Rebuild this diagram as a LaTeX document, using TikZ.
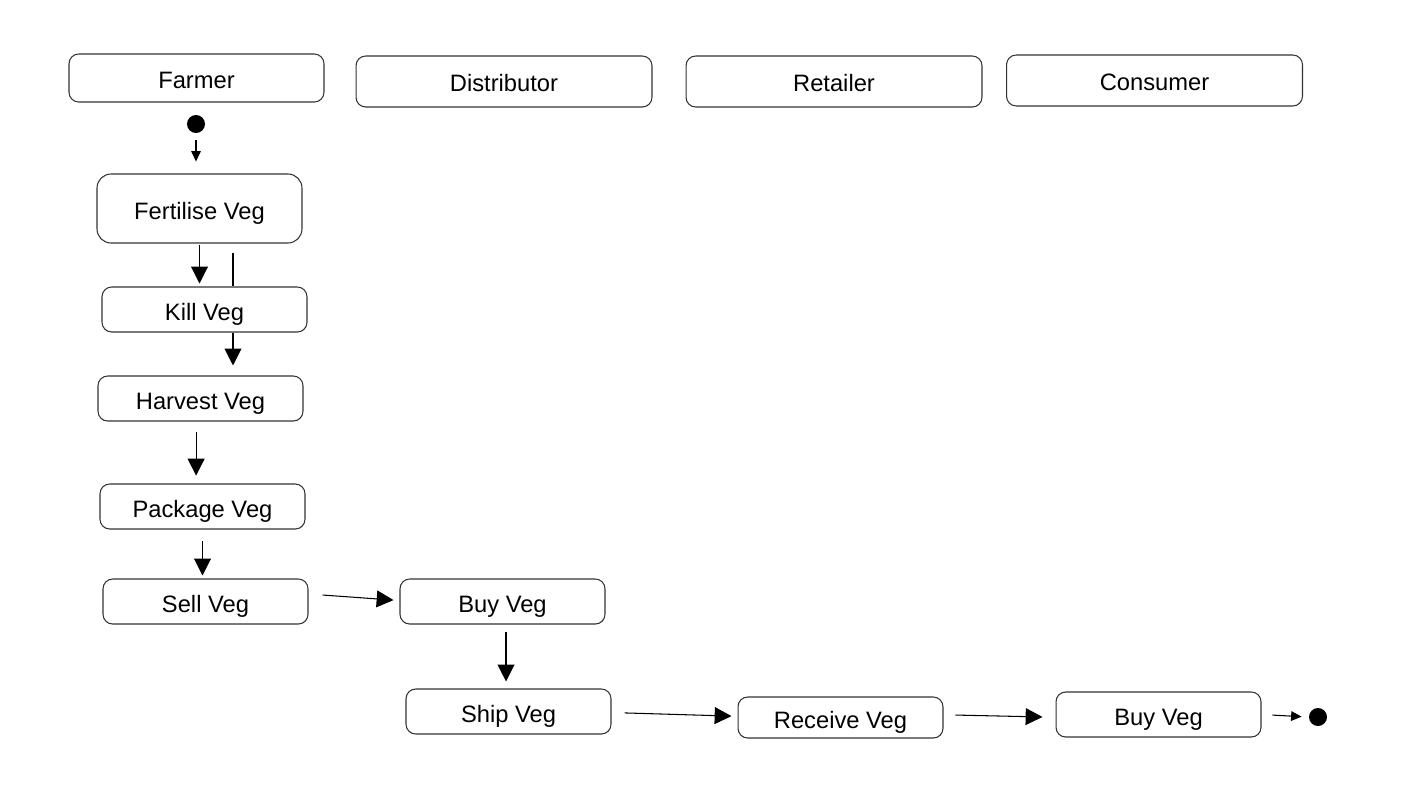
\documentclass[tikz,border=0pt]{standalone}
\usepackage{fontspec}
\setmainfont{Liberation Sans}
\usetikzlibrary{arrows.meta}
\tikzset{
  box/.style={draw=black!80, line width=0.6pt, rounded corners=5.5pt, inner sep=0pt,
    font=\fontsize{13.5}{16}\selectfont},
  lane/.style={box, minimum width=5.92cm, minimum height=1.02cm, text height=11.7pt, text depth=0pt},
  act/.style={box, minimum width=4.1cm, minimum height=0.9cm, text height=12.5pt, text depth=0pt},
  dot/.style={circle, fill=black, inner sep=0pt, minimum size=0.36cm},
  flow/.style={draw=black, line width=0.6pt, -{Triangle[length=9.6pt,width=9.6pt]}},
  tick/.style={draw=black, line width=0.6pt, -{Triangle[length=6pt,width=5.5pt]}}
}
\begin{document}
\begin{tikzpicture}[x=0.02cm, y=-0.02cm]
\useasboundingbox (0,0) rectangle (1422,806);

% lanes
\draw (196.5,78) node[lane, minimum width=5.1cm, minimum height=0.96cm] (farmer) {Farmer};
\draw (504,81.5) node[lane] (distributor) {Distributor};
\draw (834,81.5) node[lane] (retailer) {Retailer};
\draw (1154.5,80.5) node[lane] (consumer) {Consumer};

% farmer
\draw (196,124) node[dot] (start) {};
\draw (199.5,208.5) node[act, minimum height=1.38cm, rounded corners=8pt] (fertilise) {Fertilise Veg};
\draw (204.5,309.5) node[act] (kill) {Kill Veg};
\draw (200.5,398.5) node[act] (harvest) {Harvest Veg};
\draw (202.5,506.5) node[act] (package) {Package Veg};
\draw (205.5,601.5) node[act] (sell) {Sell Veg};
\coordinate (k1) at (233,253);

% distributor
\draw (502.5,601.5) node[act] (buy1) {Buy Veg};
\draw (508.5,711.5) node[act] (ship) {Ship Veg};

% retailer
\draw (840.5,717.5) node[act, minimum height=0.82cm] (receive) {Receive Veg};

% consumer
\draw (1158.5,714.5) node[act] (buy2) {Buy Veg};
\draw (1318,717) node[dot] (stop) {};

\draw [tick, shorten <=4pt, shorten >=6.8pt] (start) -- (start |- fertilise.north);
\draw [flow, shorten <=1pt, shorten >=1.7pt] (fertilise.south) -- (fertilise.south |- kill.north);
\draw [line width=0.6pt] (k1) -- (k1 |- kill.north);
\draw [flow, shorten >=5.7pt] (k1 |- kill.south) -- (k1 |- harvest.north);
\draw [flow, shorten <=6.2pt, shorten >=4.5pt] ([xshift=-2.5pt]harvest.south) -- ([xshift=-2.5pt]harvest.south |- package.north);
\draw [flow, shorten <=6.8pt, shorten >=1.7pt] (package.south) -- (package.south |- sell.north);
\draw [flow] ([xshift=8pt,yshift=3.7pt]sell.east) -- ([xshift=-3.4pt,yshift=0.8pt]buy1.west);
\draw [flow, shorten <=4.5pt, shorten >=4pt] ([xshift=2pt]buy1.south) -- ([xshift=2pt]buy1.south |- ship.north);
\draw [flow] ([xshift=7.4pt,yshift=-0.8pt]ship.east) -- ([xshift=-3.4pt,yshift=0.8pt]receive.west);
\draw [flow] ([xshift=6.8pt,yshift=1.4pt]receive.east) -- ([xshift=-7.4pt,yshift=-1.4pt]buy2.west);
\draw [tick, shorten <=6.2pt, shorten >=4pt] (buy2.east) -- (stop.west);
\end{tikzpicture}
\end{document}
